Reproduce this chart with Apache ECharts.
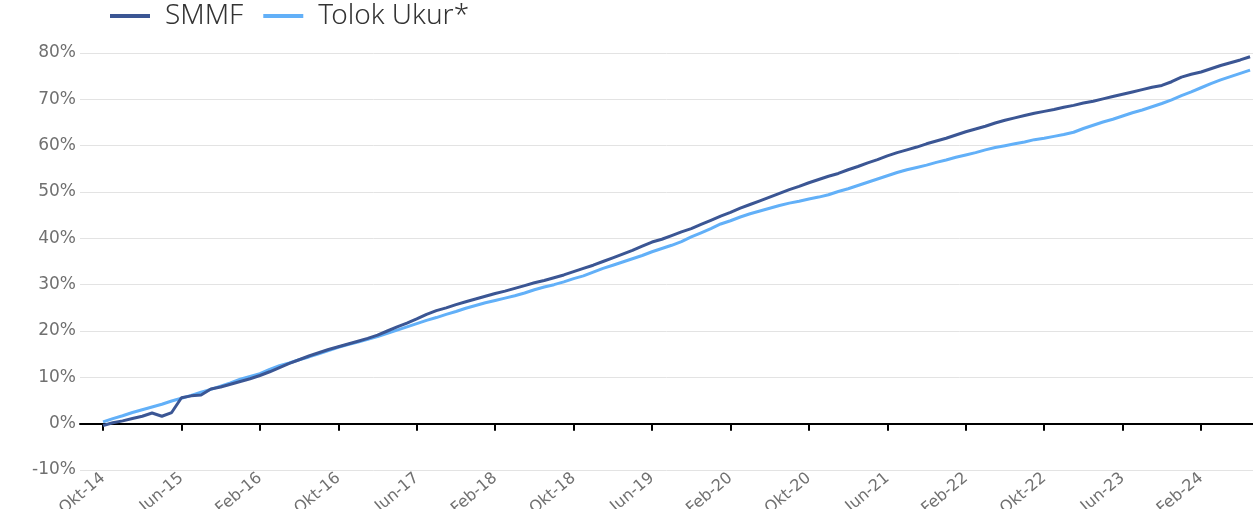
<!DOCTYPE html>
<html>
<head>
<meta charset="utf-8">
<script src="https://cdn.jsdelivr.net/npm/echarts@6/dist/echarts.min.js"></script>
<style>
    html, body { margin: 0; padding: 0; background: #ffffff; }
    #chart { width: 1253px; height: 509px; }
</style>
</head>
<body>
<div id="chart"></div>
<script>
// tick labels, one every 8 months starting Okt-14 (month index 0)
const tickLabels = ['Okt-14', 'Jun-15', 'Feb-16', 'Okt-16', 'Jun-17', 'Feb-18', 'Okt-18', 'Jun-19',
    'Feb-20', 'Okt-20', 'Jun-21', 'Feb-22', 'Okt-22', 'Jun-23', 'Feb-24'];
const tickStep = 8;

// monthly cumulative return (%), Okt-14 .. Jul-24
const smmf = [
    -0.4, 0.2, 0.6, 1.1, 1.6, 2.3, 1.6, 2.4, 5.6, 6.0,
    6.2, 7.5, 7.9, 8.5, 9.1, 9.7, 10.4, 11.2, 12.1, 13.0,
    13.8, 14.6, 15.3, 16.0, 16.6, 17.2, 17.8, 18.4, 19.1, 20.0,
    20.9, 21.7, 22.6, 23.6, 24.4, 25.0, 25.7, 26.3, 26.9, 27.5,
    28.1, 28.6, 29.2, 29.8, 30.4, 30.9, 31.5, 32.1, 32.8, 33.5,
    34.2, 35.0, 35.8, 36.6, 37.4, 38.3, 39.2, 39.8, 40.6, 41.4,
    42.1, 43.0, 43.9, 44.8, 45.6, 46.5, 47.3, 48.1, 48.9, 49.7,
    50.5, 51.2, 52.0, 52.7, 53.4, 54.0, 54.8, 55.5, 56.3, 57.0,
    57.8, 58.5, 59.1, 59.7, 60.4, 61.0, 61.6, 62.3, 63.0, 63.6,
    64.2, 64.9, 65.5, 66.0, 66.5, 67.0, 67.4, 67.8, 68.3, 68.7,
    69.2, 69.6, 70.1, 70.6, 71.1, 71.6, 72.1, 72.6, 73.0, 73.8,
    74.8, 75.4, 75.9, 76.6, 77.3, 77.9, 78.5, 79.2
];
const tolokUkur = [
    0.4, 1.1, 1.7, 2.4, 3.0, 3.6, 4.2, 4.9, 5.5, 6.1,
    6.8, 7.4, 8.1, 8.8, 9.6, 10.2, 10.8, 11.7, 12.5, 13.1,
    13.8, 14.4, 15.1, 15.8, 16.5, 17.1, 17.6, 18.2, 18.8, 19.5,
    20.2, 20.9, 21.6, 22.3, 22.9, 23.6, 24.2, 24.9, 25.5, 26.1,
    26.6, 27.1, 27.6, 28.2, 28.9, 29.5, 30.0, 30.6, 31.3, 31.9,
    32.7, 33.5, 34.2, 34.9, 35.6, 36.3, 37.1, 37.8, 38.5, 39.3,
    40.3, 41.2, 42.1, 43.1, 43.8, 44.6, 45.3, 45.9, 46.5, 47.1,
    47.6, 48.0, 48.5, 48.9, 49.4, 50.1, 50.7, 51.4, 52.1, 52.8,
    53.5, 54.2, 54.8, 55.3, 55.8, 56.4, 56.9, 57.5, 58.0, 58.5,
    59.1, 59.6, 60.0, 60.4, 60.8, 61.3, 61.6, 62.0, 62.4, 62.9,
    63.7, 64.4, 65.1, 65.7, 66.4, 67.1, 67.7, 68.4, 69.1, 69.9,
    70.8, 71.6, 72.5, 73.4, 74.2, 74.9, 75.6, 76.3
];

const tickValues = tickLabels.map((l, i) => i * tickStep);
const toPairs = (arr) => arr.map((v, i) => [i, v]);

const chart = echarts.init(document.getElementById('chart'));
chart.setOption({
    animation: false,
    textStyle: { fontFamily: 'DejaVu Sans' },
    legend: {
        top: -3,
        left: 105,
        itemWidth: 40,
        itemHeight: 4,
        itemGap: 20,
        icon: 'rect',
        textStyle: {
            fontSize: 28,
            color: '#333333',
            fontFamily: 'Noto Sans',
            fontWeight: 300,
            padding: [0, 0, 0, 10],
        },
        data: ['SMMF', 'Tolok Ukur*'],
    },
    grid: { left: 80, right: 0, top: 53, bottom: 39, outerBoundsMode: 'none' },
    xAxis: [
        {
            type: 'value',
            min: -2.35,
            max: 117.3,
            splitLine: { show: false },
            axisLine: { show: true, onZero: true, lineStyle: { color: '#000000', width: 2 } },
            axisTick: { show: true, customValues: tickValues, length: 7, lineStyle: { color: '#000000', width: 2 } },
            axisLabel: { show: false },
        },
        {
            type: 'value',
            min: -2.35,
            max: 117.3,
            position: 'bottom',
            splitLine: { show: false },
            axisLine: { show: false, onZero: false },
            axisTick: { show: false },
            axisLabel: {
                customValues: tickValues,
                formatter: (v) => tickLabels[Math.round(v / tickStep)],
                rotate: 40,
                margin: 6,
                fontSize: 16,
                color: '#707070',
            },
        },
    ],
    yAxis: {
        type: 'value',
        min: -10,
        max: 80,
        interval: 10,
        axisLine: { show: false },
        axisTick: { show: false },
        axisLabel: { formatter: '{value}%', fontSize: 17, color: '#707070', margin: 4 },
        splitLine: { lineStyle: { color: '#e3e3e3', width: 1 } },
    },
    series: [
        {
            name: 'SMMF',
            type: 'line',
            z: 3,
            data: toPairs(smmf),
            showSymbol: false,
            lineStyle: { color: '#3b5694', width: 3 },
            itemStyle: { color: '#3b5694' },
        },
        {
            name: 'Tolok Ukur*',
            type: 'line',
            z: 2,
            data: toPairs(tolokUkur),
            showSymbol: false,
            lineStyle: { color: '#62b0f8', width: 3 },
            itemStyle: { color: '#62b0f8' },
        },
    ],
});
</script>
</body>
</html>
